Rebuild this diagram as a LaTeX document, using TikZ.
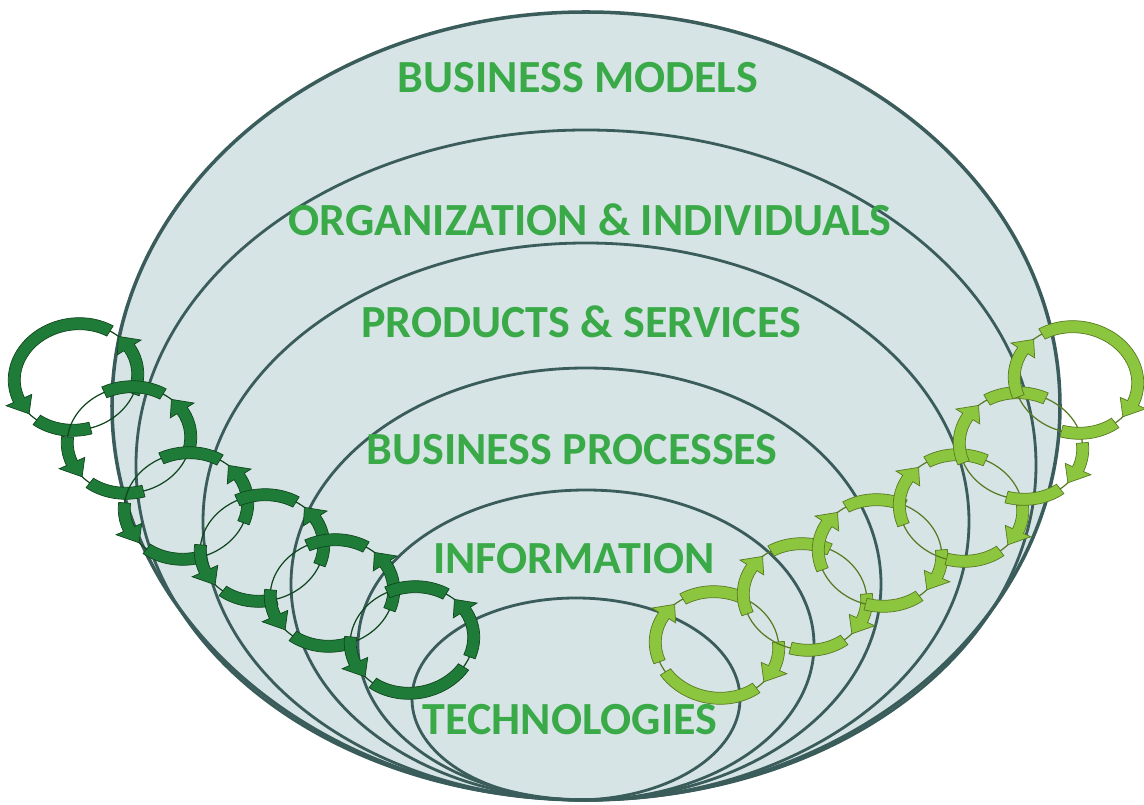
\documentclass[tikz,border=0pt]{standalone}
\usepackage{fontspec}
\setmainfont{Carlito}
\usepackage{xcolor}
\usepackage{tikz}
\usetikzlibrary{calc}
\definecolor{ShellFill}{RGB}{214,228,230}
\definecolor{ShellLine}{RGB}{58,92,90}
\definecolor{LayerGreen}{RGB}{58,170,72}
\definecolor{DarkLoop}{RGB}{30,124,56}
\definecolor{DarkLoopEdge}{RGB}{16,70,30}
\definecolor{LightLoop}{RGB}{140,198,62}
\definecolor{LightLoopEdge}{RGB}{88,122,34}

% plain band of a loop, from angle #1 to #2
\newcommand{\loopseg}[2]{%
  \filldraw (#1:68 and 59) arc[start angle=#1, end angle=#2, x radius=68, y radius=59]
    -- (#2:56 and 47) arc[start angle=#2, end angle=#1, x radius=56, y radius=47] -- cycle;}
% band from #1, head from #2 to its tip at #3
\newcommand{\looparrow}[3]{%
  \filldraw (#1:68 and 59) arc[start angle=#1, end angle=#2, x radius=68, y radius=59]
    -- (#2:76 and 67) -- (#3:62 and 53) -- (#2:48 and 39)
    -- (#2:56 and 47) arc[start angle=#2, end angle=#1, x radius=56, y radius=47] -- cycle;}

\begin{document}
\begin{tikzpicture}[x=0.02cm, y=0.02cm,
    shell/.style={ShellLine, line width=1.6pt},
    layer/.style={LayerGreen, font=\fontsize{26.2}{30}\selectfont\bfseries, inner sep=0pt, anchor=base},
    darkloop/.style={fill=DarkLoop, draw=DarkLoopEdge, line width=0.4pt},
    lightloop/.style={fill=LightLoop, draw=LightLoopEdge, line width=0.4pt}]
	\useasboundingbox (0,0) rectangle (1144,805);
	\fill[white] (0,0) rectangle (1144,805);
	% nested layers, all resting on the same bottom point
	\fill[ShellFill] (586,399) ellipse [x radius=474, y radius=394];
	\draw[shell, line width=2pt] (586,399) ellipse [x radius=474, y radius=394];
	\draw[shell] (586,340) ellipse [x radius=450, y radius=335];
	\draw[shell] (586,283.5) ellipse [x radius=383, y radius=278.5];
	\draw[shell] (586,221) ellipse [x radius=295, y radius=216];
	\draw[shell] (586,160) ellipse [x radius=228, y radius=155];
	\draw[shell] (576,106) ellipse [x radius=164, y radius=101];
	\node[layer] (models) at (578,712) {BUSINESS MODELS};
	\node[layer] (organization) at (590,569) {ORGANIZATION \& INDIVIDUALS};
	\node[layer] (products) at (581,467) {PRODUCTS \& SERVICES};
	\node[layer] (processes) at (572,340) {BUSINESS PROCESSES};
	\node[layer] (information) at (574,231) {INFORMATION};
	\node[layer] (technologies) at (570,70) {TECHNOLOGIES};
	% dark loops, turning counterclockwise
	\foreach \cx/\cy/\k in {76/428/1, 129/365/2, 186/299/3, 262/257/4, 332/212/5, 412/165/6} {
		\begin{scope}[shift={(\cx,\cy)}, rotate=10, darkloop]
			\draw[DarkLoopEdge, line width=0.7pt] (0,0) ellipse [x radius=62, y radius=53];
			\looparrow{-30}{22}{38}
			\ifnum\k=1
				\looparrow{48}{194}{212}
			\else
				\loopseg{48}{105}
				\looparrow{165}{194}{212}
			\fi
			\ifnum\k=6
				\loopseg{222}{318}
			\else
				\loopseg{222}{275}
			\fi
		\end{scope}
	}
	% light loops, turning clockwise
	\foreach \cx/\cy/\k in {717/160/1, 805/208/2, 880/252/3, 961/297/4, 1021/359/5, 1076/425/6} {
		\begin{scope}[shift={(\cx,\cy)}, rotate=-10, lightloop]
			\draw[LightLoopEdge, line width=0.7pt] (0,0) ellipse [x radius=62, y radius=53];
			\looparrow{210}{158}{142}
			\ifnum\k=6
				\looparrow{132}{-14}{-32}
			\else
				\loopseg{132}{75}
				\looparrow{15}{-14}{-32}
			\fi
			\ifnum\k=1
				\loopseg{-42}{-138}
			\else
				\loopseg{-42}{-95}
			\fi
		\end{scope}
	}
\end{tikzpicture}
\end{document}
